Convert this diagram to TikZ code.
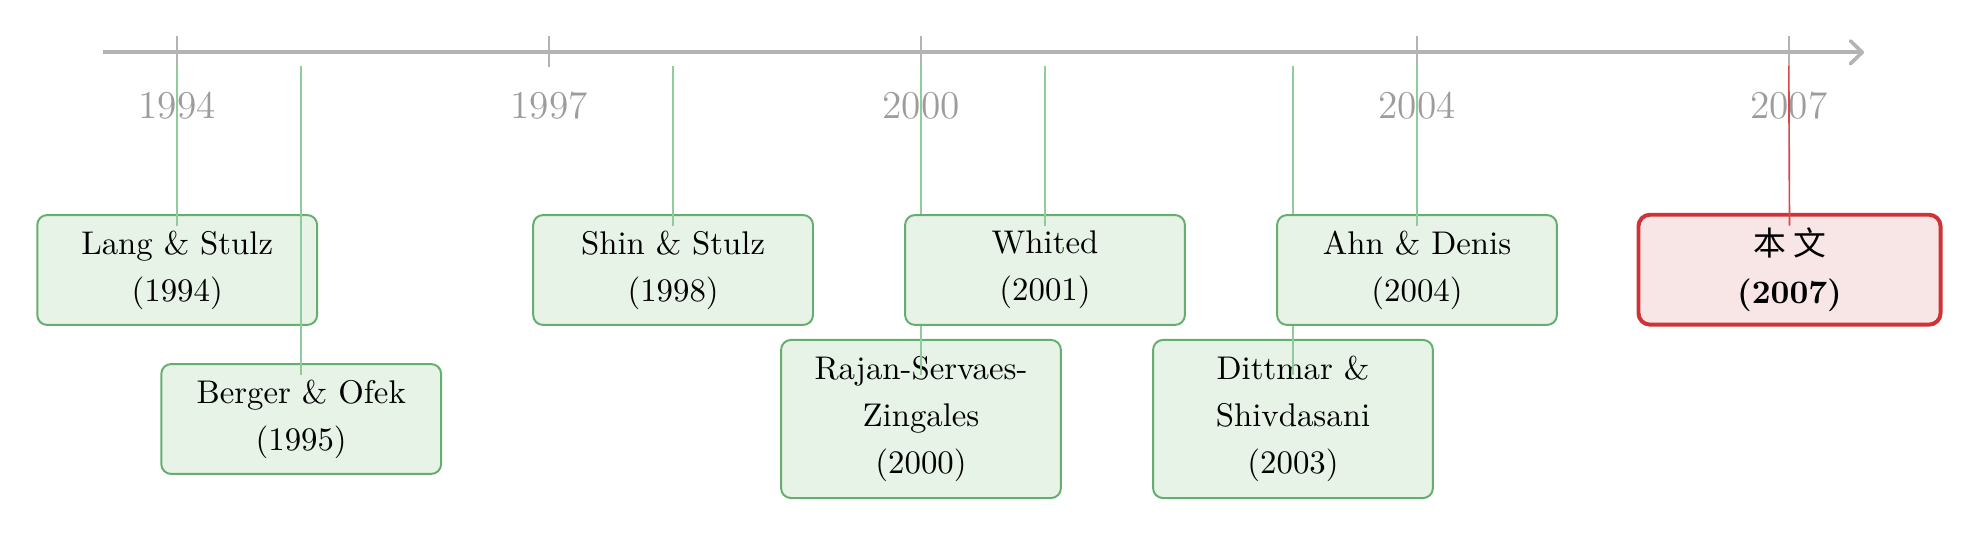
\documentclass[tikz,border=0pt]{standalone}
\usepackage{fontspec}
\newfontfamily\cjk{Noto Sans CJK SC}
\usetikzlibrary{arrows.meta}
\definecolor{axisgray}{HTML}{B3B3B3}
\definecolor{yeargray}{HTML}{9C9C9C}
\definecolor{evline}{HTML}{8FCB9B}
\definecolor{evborder}{HTML}{66AE6E}
\definecolor{evfill}{HTML}{E8F3E8}
\definecolor{mborder}{HTML}{D03336}
\definecolor{mfill}{HTML}{F8E6E7}
\definecolor{mline}{HTML}{D9474A}
\begin{document}
\begin{tikzpicture}[x=0.30488pt,y=-0.30488pt,
  evbox/.style={draw=evborder, fill=evfill, line width=0.6pt, rounded corners=3pt,
    minimum width=85.3pt, minimum height=33.5pt, align=center, inner sep=0pt,
    font=\fontsize{10}{14.4}\selectfont},
  evbox3/.style={evbox, minimum height=48.2pt},
  mainbox/.style={draw=mborder, fill=mfill, line width=1.2pt, rounded corners=3.5pt,
    minimum width=92.1pt, minimum height=33.5pt, align=center, inner sep=0pt,
    font=\fontsize{10}{14.4}\selectfont\bfseries},
  evconn/.style={draw=evline, line width=0.45pt},
  mconn/.style={draw=mline, line width=0.5pt},
  tickmark/.style={draw=axisgray, line width=0.45pt},
  yearlab/.style={text=yeargray, font=\large, inner sep=0pt},
  axisline/.style={draw=axisgray, line width=1.1pt, -{Straight Barb[length=3.6pt,width=7pt,round]}}
]
\useasboundingbox (0,0) rectangle (1980,537);

% axis
\coordinate (axstart) at (102.7,52.3);
\coordinate (axend) at (1864,52.3);
\draw[axisline] (axstart) -- (axend);

% ticks and year labels
\foreach \yr/\xx in {1994/177.2,1997/549.1,2000/921,2004/1417,2007/1788.8}{
  \draw[tickmark] (\xx,36) -- (\xx,67);
  \node[yearlab] (lab\yr) at (\xx,105.5) {\yr};
}

% connector start points
\coordinate (s1994) at (177.2,66);
\coordinate (s1995) at (301.2,66);
\coordinate (s1998) at (673.1,66);
\coordinate (s2000) at (921,66);
\coordinate (s2001) at (1045,66);
\coordinate (s2003) at (1293,66);
\coordinate (s2004) at (1417,66);
\coordinate (s2007) at (1788.8,66);

% events
\node[evbox] (lang) at (177.2,270) {Lang \& Stulz\\(1994)};
\draw[evconn] (s1994) -- ([yshift=13.4pt]lang.center);

\node[evbox] (berger) at (301.2,419) {Berger \& Ofek\\(1995)};
\draw[evconn] (s1995) -- ([yshift=13.4pt]berger.center);

\node[evbox] (shin) at (673.1,270) {Shin \& Stulz\\(1998)};
\draw[evconn] (s1998) -- ([yshift=13.4pt]shin.center);

\node[evbox3] (rajan) at (921,419) {Rajan-Servaes-\\Zingales\\(2000)};
\draw[evconn] (s2000) -- ([yshift=13.4pt]rajan.center);

\node[evbox] (whited) at (1045,270) {Whited\\(2001)};
\draw[evconn] (s2001) -- ([yshift=13.4pt]whited.center);

\node[evbox3] (dittmar) at (1293,419) {Dittmar \&\\Shivdasani\\(2003)};
\draw[evconn] (s2003) -- ([yshift=13.4pt]dittmar.center);

\node[evbox] (ahn) at (1417,270) {Ahn \& Denis\\(2004)};
\draw[evconn] (s2004) -- ([yshift=13.4pt]ahn.center);

\node[mainbox] (main) at (1789.5,269.7) {{\cjk\mdseries 本\ 文}\\(2007)};
\draw[mconn] (s2007) -- ([yshift=13.4pt]main.center);
\end{tikzpicture}
\end{document}
